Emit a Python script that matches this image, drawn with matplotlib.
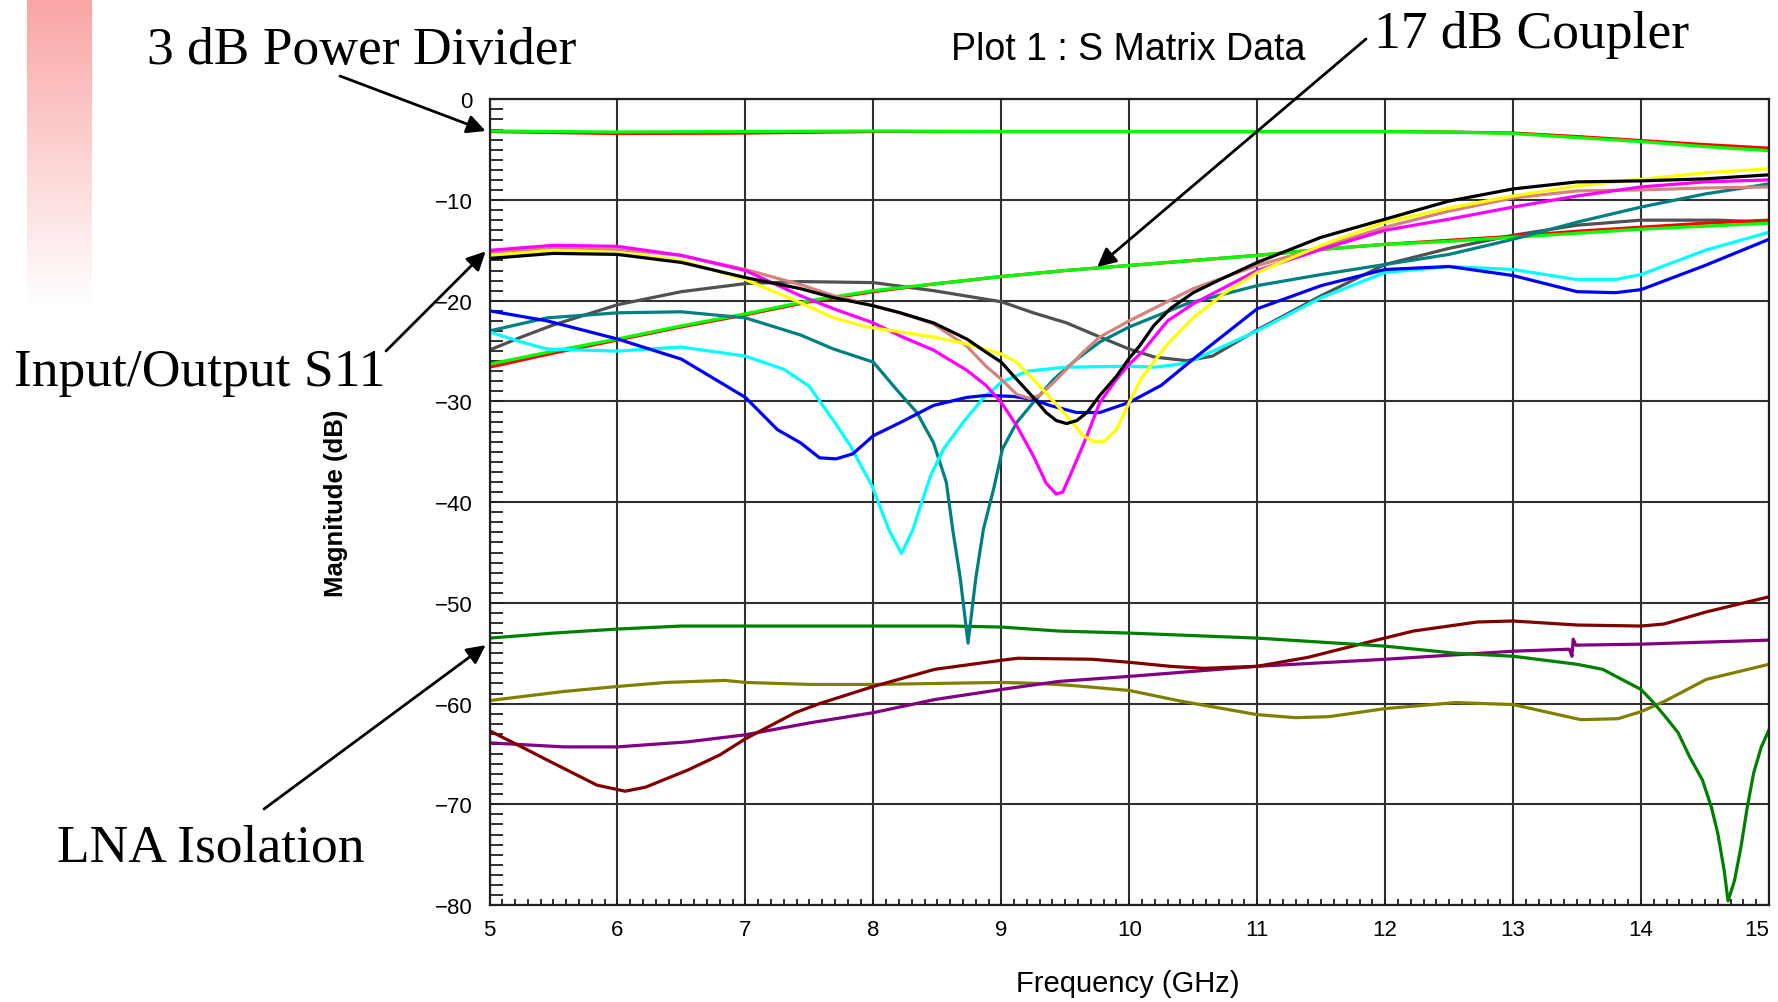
import numpy as np
import matplotlib
matplotlib.use("Agg")
import matplotlib.pyplot as plt
from matplotlib.ticker import MultipleLocator

# ---------------- data (GHz, dB) ----------------
div_f = [5, 6, 7, 8, 9, 10, 11, 12, 12.5, 13, 13.5, 14, 14.5, 15]
div_green = [-3.15, -3.25, -3.2, -3.15, -3.2, -3.2, -3.2, -3.2, -3.25, -3.4, -3.8, -4.2, -4.7, -5.1]
div_red = [-3.2, -3.4, -3.35, -3.2, -3.2, -3.2, -3.2, -3.2, -3.25, -3.35, -3.7, -4.1, -4.5, -4.85]

cpl_f = [5, 5.5, 6, 6.5, 7, 7.5, 8, 8.5, 9, 9.5, 10, 10.5, 11, 11.5, 12, 12.5, 13, 13.5, 14, 14.5, 15]
cpl_green = [-26.3, -25.0, -23.8, -22.5, -21.3, -20.0, -19.0, -18.3, -17.6, -17.0, -16.5, -16.0, -15.5,
             -14.9, -14.4, -14.1, -13.7, -13.3, -12.9, -12.6, -12.3]
cpl_red = [-26.6, -25.2, -23.9, -22.6, -21.4, -20.1, -19.1, -18.3, -17.6, -17.0, -16.5, -16.0, -15.5,
           -14.9, -14.4, -14.0, -13.6, -13.1, -12.7, -12.3, -12.0]

gray_f = [5, 5.25, 5.5, 6, 6.5, 7, 7.43, 8, 8.47, 9, 9.25, 9.51, 9.77, 10, 10.2, 10.45, 10.65, 11,
          11.5, 12, 12.5, 13, 13.5, 14, 14.6, 15]
gray_v = [-24.9, -23.6, -22.4, -20.4, -19.1, -18.3, -18.1, -18.2, -19.0, -20.1, -21.2, -22.2, -23.6,
          -24.8, -25.6, -25.95, -25.5, -22.9, -19.5, -16.4, -14.8, -13.5, -12.5, -12.0, -12.0, -12.2]

teal_f = [5, 5.45, 6, 6.5, 7, 7.43, 7.69, 8, 8.18, 8.34, 8.47, 8.57, 8.62, 8.68, 8.74, 8.80, 8.86,
          8.94, 9.01, 9.12, 9.25, 9.41, 9.59, 9.77, 10, 10.45, 11, 11.5, 12, 12.5, 13, 13.5, 14,
          14.5, 15]
teal_v = [-23.0, -21.7, -21.2, -21.1, -21.7, -23.4, -24.8, -26.1, -28.8, -31.1, -34.1, -38.0, -42.7,
          -47.6, -54.0, -47.6, -42.7, -38.7, -34.7, -32.1, -30.1, -27.8, -25.8, -24.1, -22.6, -20.3,
          -18.5, -17.4, -16.4, -15.4, -13.9, -12.2, -10.7, -9.4, -8.4]

cyan_f = [5, 5.25, 5.45, 6, 6.5, 7, 7.3, 7.5, 7.56, 7.7, 7.82, 7.99, 8.12, 8.22, 8.31, 8.36, 8.45,
          8.55, 8.7, 8.85, 9, 9.2, 9.5, 10, 10.2, 10.45, 11, 11.5, 12, 12.5, 13, 13.5, 13.8, 14,
          14.5, 15]
cyan_v = [-23.1, -24.1, -24.8, -25.0, -24.6, -25.5, -26.8, -28.5, -29.6, -32.1, -34.4, -38.4, -42.7,
          -45.1, -42.7, -40.7, -37.3, -34.7, -32.1, -29.8, -28.1, -27.0, -26.6, -26.5, -26.6, -26.2,
          -23.0, -19.7, -17.2, -16.6, -16.9, -17.9, -17.9, -17.4, -15.0, -13.2]

blue_f = [5, 5.45, 6, 6.5, 7, 7.25, 7.43, 7.58, 7.71, 7.84, 8, 8.21, 8.47, 8.73, 8.88, 9.09, 9.25,
          9.38, 9.59, 9.77, 10, 10.25, 10.5, 11, 11.5, 12, 12.5, 13, 13.5, 13.8, 14, 14.5, 15]
blue_v = [-21.0, -22.0, -23.8, -25.8, -29.6, -32.8, -34.1, -35.6, -35.7, -35.2, -33.4, -32.1, -30.4,
          -29.6, -29.4, -29.5, -29.8, -30.4, -31.1, -31.1, -30.1, -28.4, -25.8, -20.8, -18.5, -16.9,
          -16.6, -17.5, -19.1, -19.2, -18.9, -16.5, -13.9]

mag_f = [5, 5.5, 6, 6.5, 7, 7.43, 7.69, 8, 8.21, 8.47, 8.73, 8.88, 9, 9.12, 9.25, 9.35, 9.43, 9.48,
         9.56, 9.67, 9.77, 9.9, 10, 10.1, 10.3, 10.5, 11, 11.5, 12, 12.5, 13, 13.5, 14, 14.5, 15]
mag_v = [-15.0, -14.5, -14.6, -15.5, -17.0, -19.5, -20.8, -22.2, -23.5, -24.9, -26.9, -28.4, -30.1,
         -32.4, -35.4, -38.1, -39.2, -39.0, -36.7, -33.4, -30.1, -27.8, -26.3, -25.1, -22.0, -20.3,
         -17.0, -14.9, -13.0, -11.9, -10.7, -9.6, -8.7, -8.2, -8.0]

rosy_f = [5, 5.5, 6, 6.5, 7, 7.43, 7.69, 8, 8.21, 8.47, 8.73, 8.88, 9, 9.12, 9.22, 9.3, 9.41, 9.51,
          9.64, 9.77, 10, 10.5, 11, 11.5, 12, 12.5, 13, 13.5, 14, 14.5, 15]
rosy_v = [-15.2, -14.8, -14.9, -15.5, -16.9, -18.4, -19.5, -20.5, -21.2, -22.3, -24.5, -26.5, -27.8,
          -29.3, -29.7, -29.4, -28.1, -26.8, -25.1, -23.6, -22.0, -18.8, -16.5, -14.7, -12.7, -11.1,
          -9.8, -9.1, -9.0, -8.8, -8.7]

yel_f = [5, 5.5, 6, 6.5, 7, 7.43, 7.69, 7.95, 8.21, 8.47, 8.73, 9, 9.12, 9.25, 9.38, 9.51, 9.64, 9.72,
         9.8, 9.9, 10, 10.1, 10.3, 10.5, 10.75, 11, 11.5, 12, 12.5, 13, 13.5, 14, 14.5, 15]
yel_v = [-15.5, -15.0, -15.2, -16.0, -17.9, -20.2, -21.7, -22.6, -23.1, -23.6, -24.3, -25.3, -26.1,
         -27.8, -29.6, -31.4, -33.4, -34.0, -34.0, -32.8, -30.1, -27.6, -24.3, -21.7, -19.2, -17.2,
         -14.5, -12.2, -10.8, -9.6, -8.6, -7.95, -7.3, -6.9]

blk_f = [5, 5.5, 6, 6.5, 7, 7.43, 7.69, 8, 8.21, 8.47, 8.73, 8.88, 9, 9.12, 9.25, 9.35, 9.43, 9.51,
         9.59, 9.67, 9.77, 9.9, 10, 10.08, 10.19, 10.32, 10.5, 10.71, 11, 11.5, 12, 12.5, 13, 13.5,
         14, 14.5, 15]
blk_v = [-15.8, -15.3, -15.4, -16.2, -17.7, -18.8, -19.7, -20.5, -21.2, -22.2, -23.8, -25.1, -26.1,
         -27.8, -29.6, -31.1, -31.9, -32.2, -31.9, -31.1, -29.4, -27.5, -25.7, -24.5, -22.5, -20.8,
         -19.2, -17.9, -16.2, -13.7, -11.9, -10.1, -8.9, -8.2, -8.1, -7.9, -7.5]

# LNA isolation curves
dg_f = [5, 5.5, 6, 6.5, 7, 8, 8.6, 9, 9.45, 10, 11, 12, 12.55, 13, 13.5, 13.7, 14, 14.09, 14.19, 14.29,
        14.38, 14.48, 14.55, 14.6, 14.65, 14.68, 14.73, 14.78, 14.83, 14.88, 14.94, 15]
dg_v = [-53.5, -53.0, -52.6, -52.3, -52.3, -52.3, -52.3, -52.4, -52.8, -53.0, -53.5, -54.3, -55.0,
        -55.3, -56.1, -56.6, -58.6, -59.8, -61.3, -62.9, -65.3, -67.6, -70.3, -72.9, -76.6, -79.6,
        -77.6, -74.3, -70.3, -66.9, -64.3, -62.6]

mar_f = [5, 5.25, 5.45, 5.84, 6.06, 6.22, 6.55, 6.8, 7, 7.39, 7.58, 8, 8.48, 9, 9.13, 9.71, 10, 10.32,
         10.58, 11, 11.4, 11.9, 12.22, 12.72, 13, 13.5, 14, 14.18, 14.51, 15]
mar_v = [-62.7, -64.3, -65.6, -68.1, -68.7, -68.3, -66.6, -65.1, -63.5, -60.9, -60.0, -58.3, -56.6,
         -55.7, -55.5, -55.6, -55.9, -56.3, -56.5, -56.3, -55.4, -53.8, -52.8, -51.9, -51.8, -52.2,
         -52.3, -52.1, -50.9, -49.4]

pur_f = [5, 5.58, 6, 6.55, 7, 7.51, 8, 8.48, 9, 9.45, 10, 11, 12, 13, 13.44, 13.46, 13.47, 13.49, 14, 15]
pur_v = [-63.9, -64.3, -64.3, -63.8, -63.1, -61.9, -60.9, -59.6, -58.6, -57.8, -57.3, -56.3, -55.6,
         -54.8, -54.6, -55.3, -53.6, -54.2, -54.1, -53.7]

olv_f = [5, 5.58, 6, 6.38, 6.84, 7, 7.51, 8, 9, 9.29, 9.55, 10, 10.42, 11, 11.3, 11.56, 12, 12.55, 13,
         13.53, 13.82, 14, 14.18, 14.51, 15]
olv_v = [-59.7, -58.8, -58.3, -57.9, -57.7, -57.9, -58.1, -58.1, -57.9, -58.0, -58.2, -58.7, -59.8,
         -61.1, -61.4, -61.3, -60.5, -59.9, -60.1, -61.6, -61.5, -60.8, -59.8, -57.6, -56.1]

x_ticks = list(range(5, 16))
y_ticks = list(range(-80, 1, 10))
title_text = "Plot 1 : S Matrix Data"
x_label = "Frequency (GHz)"
y_label = "Magnitude (dB)"

# ---------------- figure ----------------
W, H = 1778, 1003
fig = plt.figure(figsize=(W / 100, H / 100), dpi=100)
fig.patch.set_facecolor("white")

sans = ["Liberation Sans", "DejaVu Sans"]
serif = ["Liberation Serif", "DejaVu Serif"]

# pink gradient strip at top-left
gax = fig.add_axes([27 / W, 1 - 306 / H, 64 / W, 306 / H])
t = np.linspace(0, 1, 256)[:, None]
top = np.array([250, 165, 165]) / 255.0
grad = top[None, None, :] * (1 - t[:, :, None]) + np.ones(3)[None, None, :] * t[:, :, None]
gax.imshow(grad, aspect="auto", extent=[0, 1, 0, 1])
gax.set_axis_off()

L, R, T, B = 489.5, 1769, 100.3, 906
ax = fig.add_axes([L / W, 1 - B / H, (R - L) / W, (B - T) / H])

lw = 2.3
series = [
    (div_f, div_red, "#ff0000"),
    (div_f, div_green, "#00ff00"),
    (olv_f, olv_v, "#808000"),
    (pur_f, pur_v, "#800080"),
    (mar_f, mar_v, "#800000"),
    (dg_f, dg_v, "#008000"),
    (gray_f, gray_v, "#505050"),
    (cpl_f, cpl_red, "#ff0000"),
    (cpl_f, cpl_green, "#00ff00"),
    (teal_f, teal_v, "#008080"),
    (cyan_f, cyan_v, "#00ffff"),
    (blue_f, blue_v, "#0000ff"),
    (rosy_f, rosy_v, "#d4847c"),
    (mag_f, mag_v, "#ff00ff"),
    (yel_f, yel_v, "#ffff00"),
    (blk_f, blk_v, "#000000"),
]
for f, v, c in series:
    ax.plot(f, v, color=c, lw=lw, solid_joinstyle="round")

ax.set_xlim(5, 15)
ax.set_ylim(-80, 0)
ax.set_xticks(x_ticks)
ax.set_yticks(y_ticks)
ax.xaxis.set_minor_locator(MultipleLocator(0.1))
ax.yaxis.set_minor_locator(MultipleLocator(1))
ax.grid(which="major", color="#303030", lw=1.5)
ax.set_axisbelow(True)
for s in ax.spines.values():
    s.set_linewidth(1.6)
    s.set_color("#202020")

ax.tick_params(axis="y", which="both", direction="in", length=9.5, width=1.3, pad=12,
               labelsize=16, color="#202020")
ax.tick_params(axis="x", which="both", direction="in", length=4.5, width=1.3, pad=10,
               labelsize=16, color="#202020")
ax.tick_params(top=False, right=False)
ax.set_xticklabels([str(v) for v in x_ticks], family=sans)
ax.set_yticklabels([str(v).replace("-", "\u2212") for v in y_ticks], family=sans)
ax.get_xticklabels()[-1].set_ha("right")

ax.set_xlabel(x_label, family=sans, fontsize=21)
ax.xaxis.set_label_coords((1128 - L) / (R - L), -(984 - B) / (B - T))
ax.set_ylabel(y_label, family=sans, fontsize=18.5, fontweight="bold")
ax.yaxis.set_label_coords((336 - L) / (R - L), 0.5)
ax.xaxis.label.set_va("center")
ax.yaxis.label.set_va("center")

fig.text(1128 / W, 1 - 50 / H, title_text, family=sans, fontsize=27, ha="center", va="center")

# annotations
def fp(x, y):
    return (x / W, 1 - y / H)

aprops = dict(arrowstyle="-|>", color="black", lw=2.0, mutation_scale=28, shrinkA=0, shrinkB=0)
fsz = 38.5
fig.text(*fp(147, 51), "3 dB Power Divider", family=serif, fontsize=fsz, ha="left", va="center")
ax.annotate("", xy=(4.97, div_green[0]), xycoords="data", xytext=fp(340, 77),
            textcoords="figure fraction", arrowprops=aprops, annotation_clip=False)

fig.text(*fp(1374, 35), "17 dB Coupler", family=serif, fontsize=fsz, ha="left", va="center")
ax.annotate("", xy=(9.75, -16.65), xycoords="data", xytext=fp(1366, 40),
            textcoords="figure fraction", arrowprops=aprops, annotation_clip=False)

fig.text(*fp(14, 373), "Input/Output S11", family=serif, fontsize=fsz, ha="left", va="center")
ax.annotate("", xy=(4.97, -15.1), xycoords="data", xytext=fp(386, 352),
            textcoords="figure fraction", arrowprops=aprops, annotation_clip=False)

fig.text(*fp(57, 849), "LNA Isolation", family=serif, fontsize=fsz, ha="left", va="center")
ax.annotate("", xy=(4.97, -54.2), xycoords="data", xytext=fp(264, 810),
            textcoords="figure fraction", arrowprops=aprops, annotation_clip=False)

fig.savefig("out.png", dpi=100, facecolor="white")
